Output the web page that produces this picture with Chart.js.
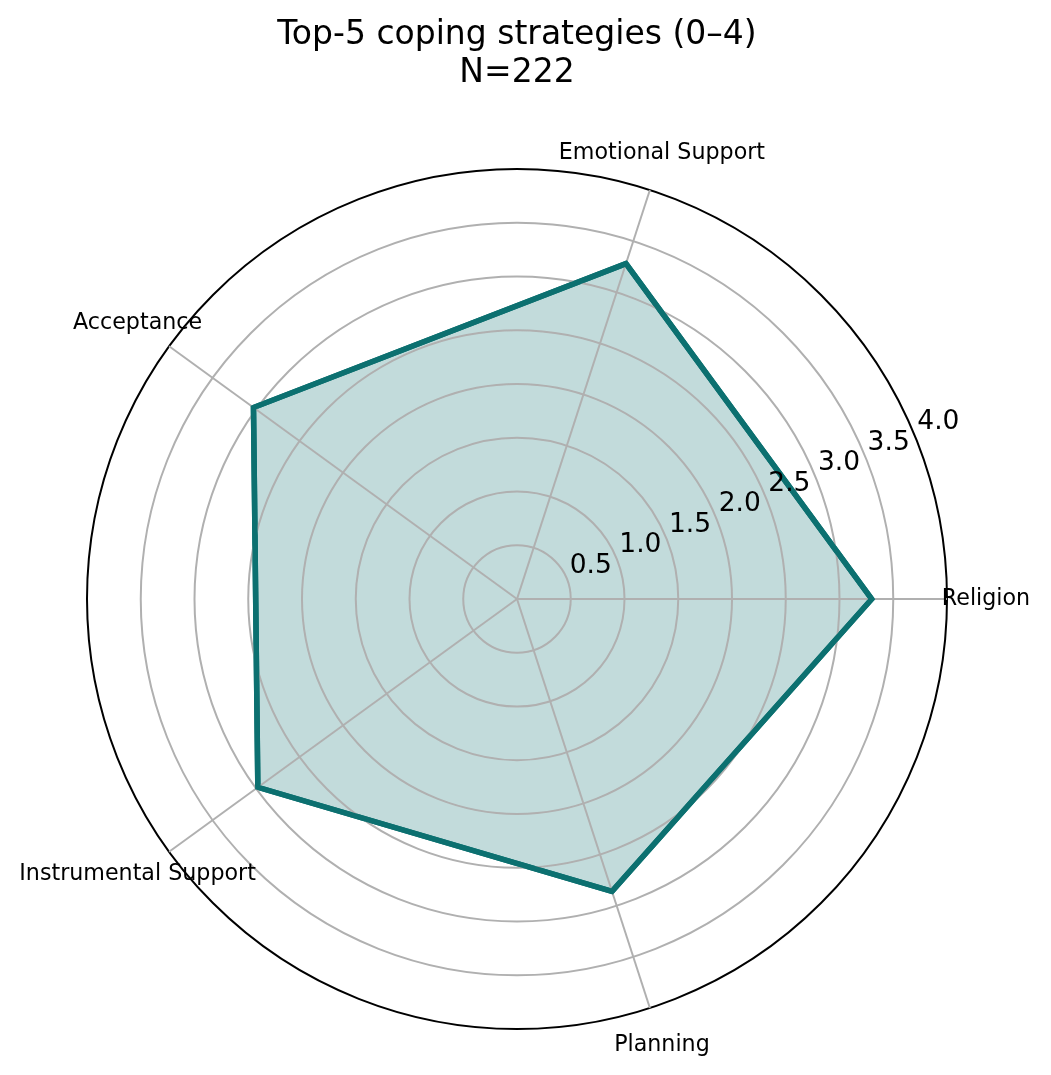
<!DOCTYPE html>
<html>
<head>
<meta charset="utf-8">
<script src="https://cdn.jsdelivr.net/npm/chart.js@4.4.1/dist/chart.umd.min.js"></script>
<style>
  html, body { margin: 0; padding: 0; background: #fff; }
  #wrap { width: 1051px; height: 1075px; }
</style>
</head>
<body>
<div id="wrap"><canvas id="radarChart"></canvas></div>
<script>
// categories in clockwise order, starting at the right (Chart.js draws clockwise)
const strategies = ["Religion", "Planning", "Instrumental Support", "Acceptance", "Emotional Support"];
const meanScores = [3.30, 2.86, 2.98, 3.03, 3.28];
const rTicks = [0.5, 1.0, 1.5, 2.0, 2.5, 3.0, 3.5, 4.0];

const teal = "rgb(12, 112, 112)";
const font = "'DejaVu Sans', sans-serif";

// grid sits above the fill, so redraw the outline after the scale,
// then the r tick labels along 22.5deg and the category labels outside the circle
const polarLabels = {
    id: "polarLabels",
    afterDraw(chart) {
        const scale = chart.scales.r;
        const ctx = chart.ctx;

        const meta = chart.getDatasetMeta(0);
        meta.dataset.draw(ctx, chart.chartArea);

        ctx.save();
        ctx.fillStyle = "#000";

        ctx.font = "26.5px " + font;
        ctx.textAlign = "left";
        ctx.textBaseline = "alphabetic";
        const a = 22.5 * Math.PI / 180;
        rTicks.forEach((t) => {
            const d = scale.getDistanceFromCenterForValue(t);
            const x = scale.xCenter + d * Math.cos(a);
            const y = scale.yCenter - d * Math.sin(a);
            ctx.fillText(t.toFixed(1), x + 3, y - 5.5);
        });

        ctx.font = "22.2px " + font;
        ctx.textAlign = "center";
        ctx.textBaseline = "middle";
        strategies.forEach((name, i) => {
            const p = scale.getPointPosition(i, scale.drawingArea + 39);
            ctx.fillText(name, p.x, p.y);
        });
        ctx.restore();
    }
};

const ctx = document.getElementById("radarChart").getContext("2d");
const radarChart = new Chart(ctx, {
    type: "radar",
    data: {
        labels: strategies,
        datasets: [
            {
                label: "Mean score",
                data: meanScores,
                borderColor: teal,
                backgroundColor: "rgba(12, 112, 112, 0.25)",
                borderWidth: 5.5,
                borderJoinStyle: "miter",
                fill: true,
                tension: 0,
                pointRadius: 0,
                pointHoverRadius: 0,
            },
        ],
    },
    options: {
        responsive: true,
        maintainAspectRatio: false,
        animation: false,
        devicePixelRatio: 1,
        layout: {
            padding: { left: 87, right: 104, top: 0, bottom: 46 },
        },
        plugins: {
            legend: { display: false },
            tooltip: { enabled: false },
            title: {
                display: true,
                text: ["Top-5 coping strategies (0\u20134)", "N=222"],
                color: "#000",
                font: { family: font, size: 33, weight: "normal", lineHeight: 1.15 },
                padding: { top: 16, bottom: 77.1 },
            },
        },
        scales: {
            r: {
                startAngle: 90,
                min: 0,
                max: 4,
                beginAtZero: true,
                ticks: { display: false, stepSize: 0.5 },
                pointLabels: { display: false },
                grid: {
                    z: 1,
                    circular: true,
                    color: (c) => (c.tick && c.tick.value === 4 ? "#000" : "#b0b0b0"),
                    lineWidth: 2,
                },
                angleLines: { color: "#b0b0b0", lineWidth: 2 },
            },
        },
    },
    plugins: [polarLabels],
});
</script>
</body>
</html>
